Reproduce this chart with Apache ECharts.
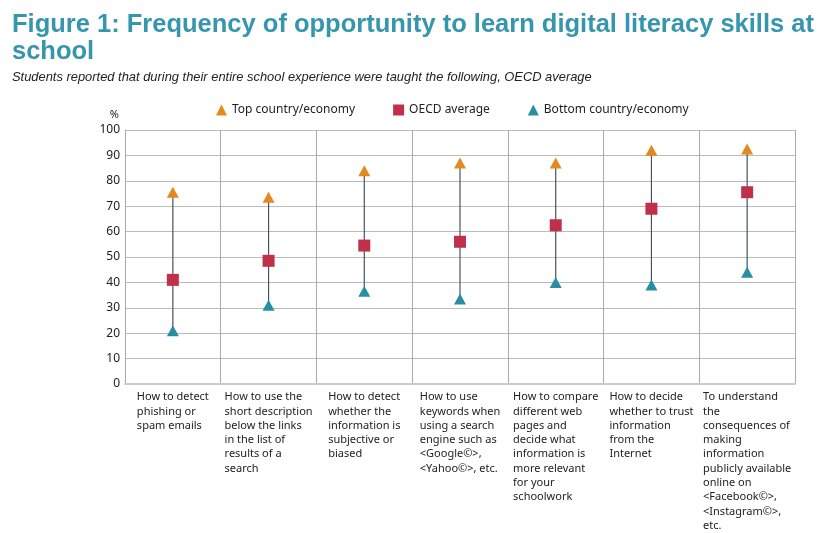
<!DOCTYPE html>
<html>
<head>
<meta charset="utf-8">
<script src="https://cdn.jsdelivr.net/npm/echarts@6/dist/echarts.min.js"></script>
<style>
  html, body { margin: 0; padding: 0; background: #fff; }
  #chart { width: 831px; height: 533px; }
</style>
</head>
<body>
<div id="chart"></div>
<script>
// categories (line breaks as in the original)
const categories = [
  'How to detect\nphishing or\nspam emails',
  'How to use the\nshort description\nbelow the links\nin the list of\nresults of a\nsearch',
  'How to detect\nwhether the\ninformation is\nsubjective or\nbiased',
  'How to use\nkeywords when\nusing a search\nengine such as\n<Google©>,\n<Yahoo©>, etc.',
  'How to compare\ndifferent web\npages and\ndecide what\ninformation is\nmore relevant\nfor your\nschoolwork',
  'How to decide\nwhether to trust\ninformation\nfrom the\nInternet',
  'To understand\nthe\nconsequences of\nmaking\ninformation\npublicly available\nonline on\n<Facebook©>,\n<Instagram©>,\netc.'
];
const topValues = [75.5, 73.5, 84, 87, 87, 92, 92.5];
const oecdValues = [41, 48.5, 54.5, 56, 62.5, 69, 75.5];
const bottomValues = [21, 31, 36.5, 33.5, 40, 39, 44];

const chart = echarts.init(document.getElementById('chart'));

const option = {
  backgroundColor: '#fff',
  title: [
    {
      text: 'Figure 1: Frequency of opportunity to learn digital literacy skills at\nschool',
      left: 7,
      top: 6,
      textStyle: {
        fontFamily: 'Liberation Sans',
        fontSize: 25.5,
        fontWeight: 'bold',
        color: '#3596ad',
        lineHeight: 27
      }
    },
    {
      text: 'Students reported that during their entire school experience were taught the following, OECD average',
      left: 7,
      top: 66,
      textStyle: {
        fontFamily: 'Liberation Sans',
        fontSize: 12.9,
        fontWeight: 'normal',
        fontStyle: 'italic',
        color: '#222'
      }
    }
  ],
  legend: {
    top: 99,
    left: 211,
    itemGap: 38,
    itemWidth: 11,
    itemHeight: 11,
    textStyle: { fontFamily: 'Noto Sans', fontSize: 12, color: '#222' },
    data: [
      { name: 'Top country/economy', icon: 'triangle' },
      { name: 'OECD average', icon: 'rect' },
      { name: 'Bottom country/economy', icon: 'triangle' }
    ]
  },
  grid: { left: 125, right: 36, top: 130, bottom: 149 },
  xAxis: {
    type: 'category',
    data: categories,
    axisTick: { show: false },
    axisLine: { lineStyle: { color: '#ccc', width: 2 } },
    splitLine: { show: true, lineStyle: { color: '#aaa', width: 1 } },
    axisLabel: {
      interval: 0,
      margin: 6,
      verticalAlign: 'top',
      formatter: function (v) { return '{a|' + v + '}'; },
      rich: {
        a: {
          align: 'left',
          fontFamily: 'Noto Sans',
          fontSize: 11,
          lineHeight: 14.3,
          color: '#222'
        }
      }
    }
  },
  yAxis: {
    type: 'value',
    min: 0,
    max: 100,
    interval: 10,
    name: '%',
    nameGap: 10,
    nameTextStyle: { fontFamily: 'Noto Sans', fontSize: 11, color: '#222', align: 'right', padding: [0, 6, 0, 0] },
    axisLine: { show: true, lineStyle: { color: '#aaa' } },
    axisTick: { show: false },
    axisLabel: { fontFamily: 'Noto Sans', fontSize: 12, color: '#222', margin: 5 },
    splitLine: { lineStyle: { color: '#bbb', width: 1 } }
  },
  series: [
    {
      type: 'custom',
      silent: true,
      z: 1,
      data: topValues.map((t, i) => [i, bottomValues[i], t]),
      renderItem: function (params, api) {
        const p1 = api.coord([api.value(0), api.value(1)]);
        const p2 = api.coord([api.value(0), api.value(2)]);
        return {
          type: 'line',
          shape: { x1: p1[0], y1: p1[1], x2: p2[0], y2: p2[1] },
          style: { stroke: '#46526a', lineWidth: 1.2 }
        };
      }
    },
    {
      name: 'Top country/economy',
      type: 'scatter',
      symbol: 'triangle',
      symbolSize: [12, 11],
      itemStyle: { color: '#e3891f', opacity: 1 },
      z: 3,
      data: topValues
    },
    {
      name: 'OECD average',
      type: 'scatter',
      symbol: 'rect',
      symbolSize: 12,
      itemStyle: { color: '#c1304a', opacity: 1 },
      z: 3,
      data: oecdValues
    },
    {
      name: 'Bottom country/economy',
      type: 'scatter',
      symbol: 'triangle',
      symbolSize: [12, 11],
      itemStyle: { color: '#278ea3', opacity: 1 },
      z: 3,
      data: bottomValues
    }
  ]
};

chart.setOption(option);
</script>
</body>
</html>
